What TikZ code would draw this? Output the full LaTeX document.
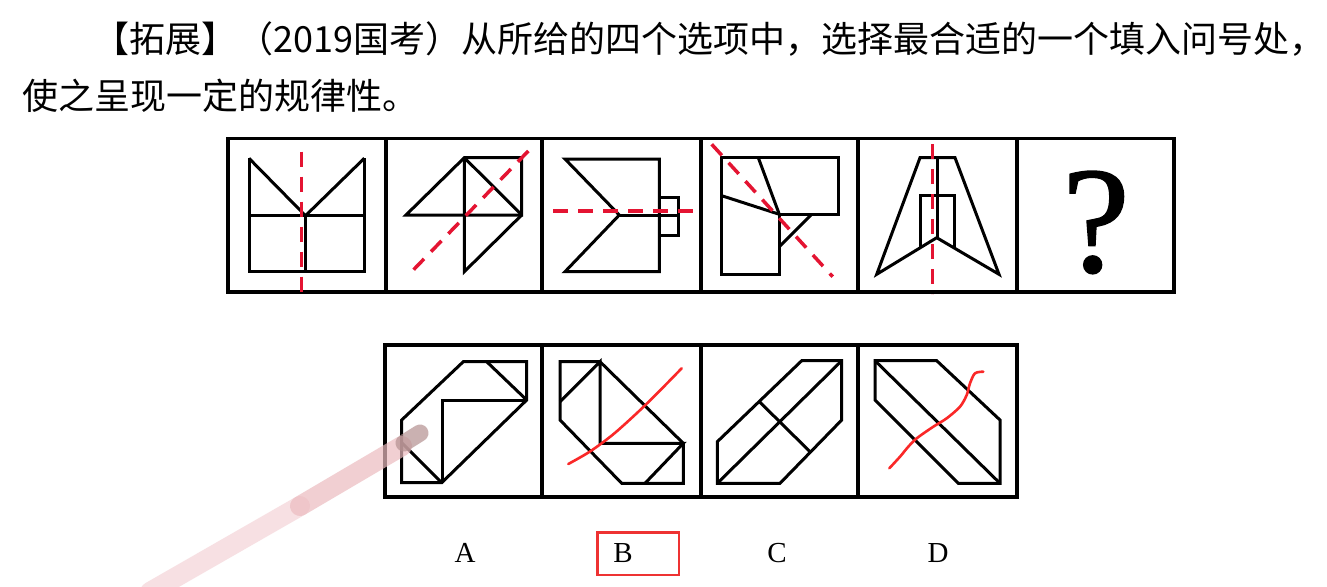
\documentclass[tikz,border=0pt]{standalone}
\usepackage{fontspec}
\setmainfont{Liberation Serif}
\newfontfamily\cjk{Noto Sans CJK SC}
\newfontfamily\qfont[FakeBold=1]{Liberation Serif}
\definecolor{axisred}{RGB}{228,20,50}
\definecolor{scribred}{RGB}{250,40,40}
\definecolor{boxred}{RGB}{238,50,50}
\definecolor{smearA}{RGB}{244,212,216}
\definecolor{smearB}{RGB}{236,188,192}
\definecolor{smearC}{RGB}{180,145,145}
\begin{document}
\begin{tikzpicture}[x=1pt,y=-1pt,
  fig/.style={line width=3pt, line join=miter},
  frame/.style={line width=3.2pt},
  axis/.style={draw=axisred, line width=3.5pt, dash pattern=on 15pt off 10pt},
  scrib/.style={draw=scribred, line width=2.6pt, line cap=round, line join=round},
  lbl/.style={font=\fontsize{29}{32}\selectfont, anchor=base, inner sep=0pt},
  cjktext/.style={font=\cjk\fontsize{36}{40}\selectfont, anchor=base west, inner sep=0pt},
]
\useasboundingbox (0,0) rectangle (1327,586);
\fill[white] (0,0) rectangle (1327,586);

% text
\node[cjktext] (t1) at (93,52.5) {【拓展】（2019国考）从所给的四个选项中，选择最合适的一个填入问号处，};
\node[cjktext] (t2) at (22,109) {使之呈现一定的规律性。};

% top row frames
\draw[frame] (228,138.5) rectangle (1174,292);
\foreach \x in {386,542,701,858,1017} \draw[frame] (\x,138.5) -- (\x,292);

% panel 1
\draw[fig] (249,158.3) -- (249,271.7) -- (364.3,271.7) -- (364.3,158.3);
\draw[fig] (249,215.7) -- (364.3,215.7);
\draw[fig] (249,158.3) -- (305.5,215.7) -- (364.3,158.3);
\draw[fig] (305.5,215.7) -- (305.5,271.7);
\draw[axis] (301.7,151.7) -- (301.7,298);

% panel 2
\draw[fig] (406,215) -- (464.3,157.7) -- (521.7,157.7) -- (521.7,215) -- cycle;
\draw[fig] (464.3,157.7) -- (464.3,271.7) -- (521.7,215);
\draw[fig] (464.3,157.7) -- (521.7,215);
\draw[axis] (528.3,151) -- (413.3,270);

% panel 3
\draw[fig] (565,159) -- (659.3,159) -- (659.3,271.7) -- (565,271.7) -- (619.3,215) -- cycle;
\draw[fig] (619.3,215) -- (678.3,215);
\draw[fig] (659.3,197.3) rectangle (678.3,235.7);
\draw[axis] (553,211) -- (700,211);

% panel 4
\draw[fig] (721.7,157.7) -- (838.3,157.7) -- (838.3,214.3) -- (779.3,214.3) -- (779.3,274.3) -- (721.7,274.3) -- cycle;
\draw[fig] (758.3,157.7) -- (779.3,214.3);
\draw[fig] (721.7,195.7) -- (779.3,214.3);
\draw[fig] (811.7,214.3) -- (779.3,246.7);
\draw[axis] (711.7,144.3) -- (832.7,276.7);

% panel 5
\draw[fig] (936.7,237.7) -- (876.7,274.3) -- (920,157.7) -- (955,157.7) -- (999,274.3) -- cycle;
\draw[fig] (937,157.7) -- (937,237.7);
\draw[fig] (920.7,247.5) -- (920.7,195) -- (954,195) -- (954,247.9);
\draw[axis] (932.3,144.3) -- (932.3,294.3);

% panel 6
\node[font=\qfont\fontsize{152}{152}\selectfont, anchor=base, inner sep=0pt] (q) at (1096,271.7) {?};

% bottom row frames
\draw[frame] (385,345) rectangle (1017,497);
\foreach \x in {542,701,858} \draw[frame] (\x,345) -- (\x,497);

% option A
\draw[fig] (463.3,361.7) -- (526.7,361.7) -- (526.7,400) -- (441.7,482.7) -- (401.7,482.7) -- (401.7,420) -- cycle;
\draw[fig] (486.7,361.7) -- (526.7,400);
\draw[fig] (526.7,400) -- (442.7,400) -- (442.7,482.7);
\draw[fig] (401.7,442.7) -- (441.7,482.7);

% option B
\draw[fig] (560,361.7) -- (600,361.7) -- (683.3,443.3) -- (683.3,483.3) -- (621.7,483.3) -- (560,420) -- cycle;
\draw[fig] (560,401.7) -- (600,361.7) -- (600,443.3) -- (683.3,443.3) -- (645,483.3);
\draw[scrib] plot[smooth] coordinates {(568.3,464) (590,451.5) (613,434.5) (637,413) (658,392.5) (681.7,368.3)};

% option C
\draw[fig] (717.3,483.3) -- (780,483.3) -- (841.7,420) -- (841.7,360.7) -- (801.7,360.7) -- (717.3,441.7) -- cycle;
\draw[fig] (717.3,483.3) -- (841.7,360.7);
\draw[fig] (760,402.3) -- (810,451.7);

% option D
\draw[fig] (875,360.7) -- (936.7,360.7) -- (1000,420) -- (1000,483.3) -- (958.3,483.3) -- (875,400) -- cycle;
\draw[fig] (875,360.7) -- (1000,483.3);
\draw[scrib] plot[smooth] coordinates {(889.3,468.3) (900,456.7) (908.3,446.7) (916.7,438.3) (933.3,426.7) (946.7,418.3) (960,406.7) (966.7,395) (970,383.3) (975,373.3) (983.3,371.7)};

% pointer smear
\draw[line width=20pt, line cap=round, draw=smearA, opacity=0.7] (150,592) -- (300,506);
\draw[line width=20pt, line cap=round, draw=smearB, opacity=0.7] (300,506) -- (402,446);
\draw[line width=17pt, line cap=round, draw=smearC, opacity=0.7] (404,443) -- (420,433);

% labels
\node[lbl] (la) at (465,562.5) {A};
\node[lbl] (lb) at (623,562.5) {B};
\node[lbl] (lc) at (777,562.5) {C};
\node[lbl] (ld) at (938,562.5) {D};
\draw[draw=boxred, line width=2.7pt] (597.3,532.7) rectangle (679,575);
\end{tikzpicture}
\end{document}
